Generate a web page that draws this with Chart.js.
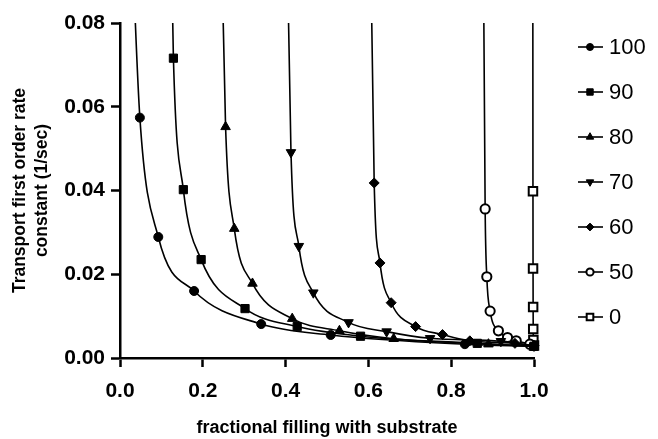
<!DOCTYPE html>
<html>
<head>
<meta charset="utf-8">
<script src="https://cdn.jsdelivr.net/npm/chart.js@4/dist/chart.umd.min.js"></script>
<style>
html,body{margin:0;padding:0;background:#fff;}
#wrap{width:658px;height:439px;position:relative;}
</style>
</head>
<body>
<div id="wrap"><canvas id="c" width="658" height="439"></canvas></div>
<script>
// Series names (legend)
const seriesNames = ['100', '90', '80', '70', '60', '50', '0'];
// Values (first point of each series lies above the plotted range)
const x100 = [0.025, 0.048, 0.0925, 0.179, 0.341, 0.509, 0.833, 1.0];
const y100 = [0.11, 0.0574, 0.0289, 0.0160, 0.0081, 0.0055, 0.0033, 0.0028];
const x90 = [0.122, 0.129, 0.153, 0.196, 0.302, 0.428, 0.581, 0.863, 1.0];
const y90 = [0.11, 0.0716, 0.0402, 0.0235, 0.0118, 0.0075, 0.0052, 0.0035, 0.0028];
const x80 = [0.243, 0.255, 0.276, 0.320, 0.416, 0.530, 0.661, 0.890, 1.0];
const y80 = [0.11, 0.0552, 0.0309, 0.0178, 0.0094, 0.0065, 0.0046, 0.0033, 0.0028];
const x70 = [0.402, 0.413, 0.432, 0.467, 0.552, 0.644, 0.749, 0.920, 1.0];
const y70 = [0.11, 0.0491, 0.0267, 0.0156, 0.0085, 0.0063, 0.0047, 0.0040, 0.0029];
const x60 = [0.604, 0.614, 0.628, 0.655, 0.714, 0.779, 0.845, 0.954, 1.0];
const y60 = [0.11, 0.0418, 0.0227, 0.0132, 0.0075, 0.0056, 0.0041, 0.0035, 0.0030];
const x50 = [0.877, 0.882, 0.886, 0.894, 0.914, 0.936, 0.957, 0.990];
const y50 = [0.11, 0.0356, 0.0194, 0.0112, 0.0065, 0.0049, 0.0041, 0.0033];
const x0 = [0.9970, 0.9975, 0.9977, 0.9979, 0.9981, 0.9985, 1.0];
const y0 = [0.11, 0.0398, 0.0214, 0.0122, 0.0069, 0.0043, 0.0030];
// Axis ticks
const xTicks = [0.0, 0.2, 0.4, 0.6, 0.8, 1.0];
const yTicks = [0.00, 0.02, 0.04, 0.06, 0.08];

const xs = [x100, x90, x80, x70, x60, x50, x0];
const ys = [y100, y90, y80, y70, y60, y50, y0];
const styles = [
  {pointStyle: 'circle', rotation: 0, radius: 4.5, fill: '#000', bw: 1},
  {pointStyle: 'rect', rotation: 0, radius: 5.8, fill: '#000', bw: 1},
  {pointStyle: 'triangle', rotation: 0, radius: 5.5, fill: '#000', bw: 1},
  {pointStyle: 'triangle', rotation: 180, radius: 5.5, fill: '#000', bw: 1},
  {pointStyle: 'rectRot', rotation: 0, radius: 5, fill: '#000', bw: 1},
  {pointStyle: 'circle', rotation: 0, radius: 4.6, fill: '#fff', bw: 2},
  {pointStyle: 'rect', rotation: 0, radius: 6, fill: '#fff', bw: 2}
];

const datasets = seriesNames.map((name, i) => ({
  label: name,
  data: xs[i].map((x, j) => ({x: x, y: ys[i][j]})),
  borderColor: '#000',
  borderWidth: 1.6,
  backgroundColor: styles[i].fill,
  pointBackgroundColor: styles[i].fill,
  pointBorderColor: '#000',
  pointBorderWidth: styles[i].bw,
  pointStyle: styles[i].pointStyle,
  pointRotation: styles[i].rotation,
  pointRadius: styles[i].radius,
  pointHoverRadius: styles[i].radius,
  cubicInterpolationMode: 'monotone',
  clip: {left: 8, top: 0, right: 10, bottom: 10},
  fill: false,
  showLine: true
}));

const legendPlugin = {
  id: 'sideLegend',
  afterDraw(chart) {
    const ctx = chart.ctx;
    ctx.save();
    const top = 47, step = 45;
    seriesNames.forEach((name, i) => {
      const y = top + i * step;
      ctx.strokeStyle = '#000';
      ctx.lineWidth = 1.6;
      ctx.beginPath();
      ctx.moveTo(578, y);
      ctx.lineTo(603, y);
      ctx.stroke();
      const s = styles[i];
      ctx.fillStyle = s.fill;
      ctx.strokeStyle = '#000';
      ctx.lineWidth = s.bw;
      Chart.helpers.drawPoint(ctx, {pointStyle: s.pointStyle, rotation: s.rotation, radius: s.radius * 0.78, borderWidth: s.bw}, 590, y);
      ctx.fillStyle = '#000';
      ctx.font = '22px "Liberation Sans", Arial, sans-serif';
      ctx.textBaseline = 'middle';
      ctx.textAlign = 'left';
      ctx.fillText(name, 609, y + 1);
    });
    ctx.restore();
  }
};

new Chart(document.getElementById('c'), {
  type: 'line',
  data: {datasets: datasets},
  plugins: [legendPlugin],
  options: {
    responsive: false,
    animation: false,
    events: [],
    layout: {padding: {left: 0, right: 124, top: 23, bottom: 0}},
    plugins: {legend: {display: false}, tooltip: {enabled: false}},
    scales: {
      x: {
        type: 'linear',
        min: 0, max: 1,
        afterFit(s) { s.height = 81; },
        afterBuildTicks(s) { s.ticks = xTicks.map(v => ({value: v})); },
        ticks: {
          color: '#000',
          font: {family: '"Liberation Sans", Arial, sans-serif', size: 21, weight: 'bold'},
          padding: 12,
          maxRotation: 0,
          callback: v => v.toFixed(1)
        },
        grid: {display: true, drawOnChartArea: false, drawTicks: true, tickLength: 9, tickWidth: 2.5, tickColor: '#000', color: '#000'},
        border: {display: true, color: '#000', width: 2.5},
        title: {
          display: true,
          text: 'fractional filling with substrate',
          color: '#000',
          font: {family: '"Liberation Sans", Arial, sans-serif', size: 18, weight: 'bold'},
          padding: {top: 10, bottom: 0}
        }
      },
      y: {
        type: 'linear',
        min: 0, max: 0.08,
        afterFit(s) { s.width = 120; },
        afterBuildTicks(s) { s.ticks = yTicks.map(v => ({value: v})); },
        ticks: {
          color: '#000',
          font: {family: '"Liberation Sans", Arial, sans-serif', size: 21, weight: 'bold'},
          padding: 6,
          callback: v => v.toFixed(2)
        },
        grid: {display: true, drawOnChartArea: false, drawTicks: true, tickLength: 9, tickWidth: 2.5, tickColor: '#000', color: '#000'},
        border: {display: true, color: '#000', width: 2.5},
        title: {
          display: true,
          text: ['Transport first order rate', 'constant (1/sec)'],
          color: '#000',
          font: {family: '"Liberation Sans", Arial, sans-serif', size: 17.5, weight: 'bold', lineHeight: 1.25},
          padding: {top: 9, bottom: 0}
        }
      }
    }
  }
});
</script>
</body>
</html>
